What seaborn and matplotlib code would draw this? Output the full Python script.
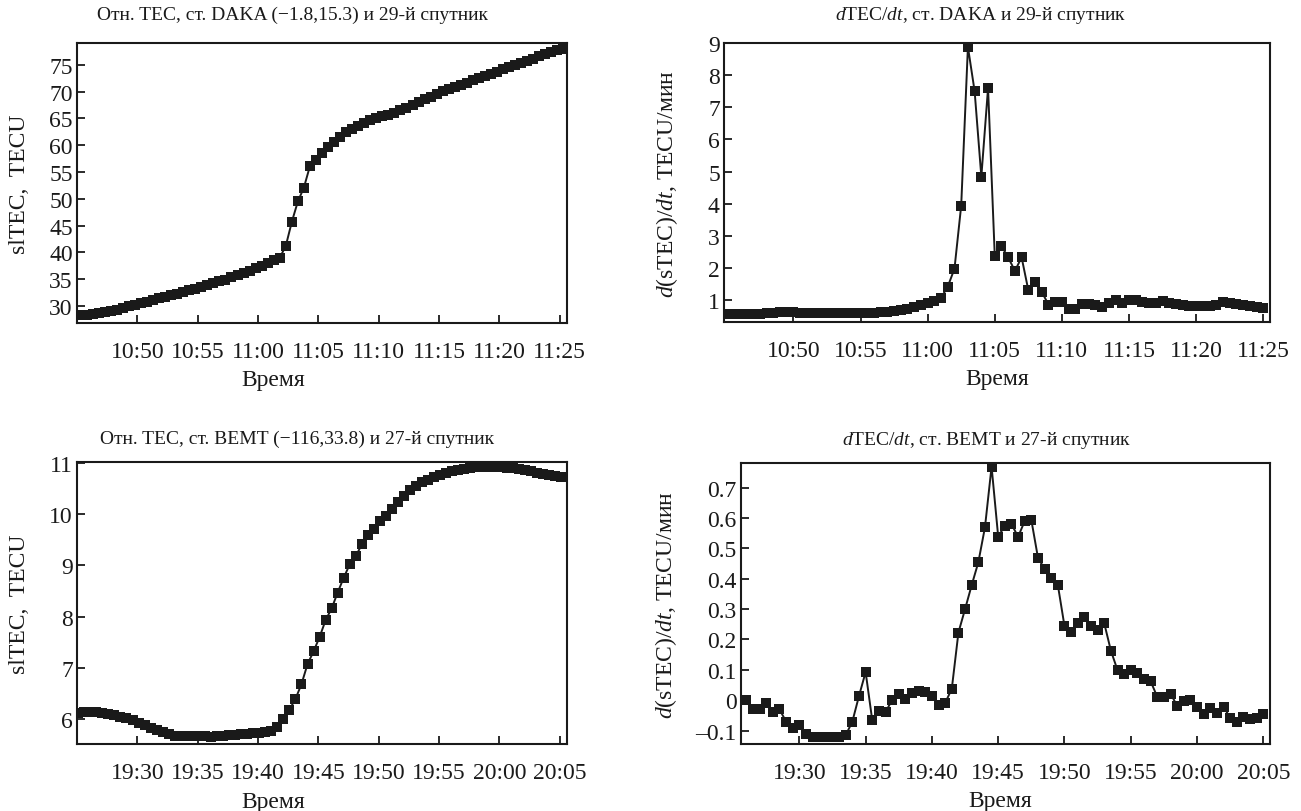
import pandas as pd
import matplotlib
matplotlib.use("Agg")
import matplotlib.pyplot as plt
import seaborn as sns

# --- данные (отсчёты каждые 30 с) ---
t_daka_tec = pd.date_range("2000-01-01 10:45:18", periods=81, freq="30s")
daka_tec = [28.3, 28.3, 28.4, 28.6, 28.8, 29.1, 29.3, 29.6, 29.9, 30.2,
            30.5, 30.8, 31.1, 31.4, 31.7, 32.0, 32.3, 32.6, 32.9, 33.2,
            33.6, 33.9, 34.2, 34.6, 34.9, 35.3, 35.7, 36.1, 36.5, 37.0,
            37.5, 38.0, 38.5, 39.0, 41.2, 45.7, 49.5, 52.1, 56.1, 57.2,
            58.6, 59.6, 60.7, 61.6, 62.4, 63.0, 63.6, 64.2, 64.7, 65.1,
            65.4, 65.7, 66.0, 66.5, 67.0, 67.5, 68.1, 68.6, 69.1, 69.6,
            70.1, 70.5, 70.9, 71.3, 71.7, 72.1, 72.5, 72.9, 73.3, 73.7,
            74.2, 74.6, 75.0, 75.4, 75.8, 76.2, 76.6, 77.0, 77.4, 77.7,
            78.0]

t_daka_dtec = pd.date_range("2000-01-01 10:45:00", periods=81, freq="30s")
daka_dtec = [0.58, 0.57, 0.56, 0.56, 0.57, 0.58, 0.60, 0.61, 0.62, 0.62,
             0.62, 0.61, 0.61, 0.61, 0.60, 0.59, 0.60, 0.60, 0.60, 0.60,
             0.60, 0.60, 0.61, 0.62, 0.64, 0.67, 0.70, 0.74, 0.78, 0.84,
             0.90, 0.96, 1.07, 1.42, 1.98, 3.94, 8.88, 7.50, 4.84, 7.60,
             2.38, 2.68, 2.33, 1.91, 2.33, 1.31, 1.55, 1.26, 0.86, 0.95,
             0.93, 0.72, 0.72, 0.87, 0.88, 0.86, 0.80, 0.92, 1.00, 0.92,
             1.00, 1.02, 0.95, 0.92, 0.92, 0.97, 0.90, 0.87, 0.85, 0.83,
             0.82, 0.82, 0.82, 0.86, 0.93, 0.90, 0.87, 0.85, 0.82, 0.78,
             0.76]

t_bemt_tec = pd.date_range("2000-01-01 19:25:06", periods=81, freq="30s")
bemt_tec = [6.12, 6.13, 6.13, 6.13, 6.12, 6.10, 6.07, 6.04, 6.01, 5.97,
            5.93, 5.88, 5.83, 5.78, 5.74, 5.70, 5.67, 5.66, 5.66, 5.67,
            5.66, 5.66, 5.65, 5.66, 5.67, 5.68, 5.69, 5.70, 5.71, 5.72,
            5.73, 5.74, 5.76, 5.85, 5.99, 6.18, 6.39, 6.68, 7.07, 7.32,
            7.60, 7.93, 8.16, 8.47, 8.76, 9.02, 9.18, 9.41, 9.60, 9.72,
            9.86, 9.97, 10.10, 10.23, 10.35, 10.47, 10.56, 10.62, 10.67, 10.72,
            10.77, 10.81, 10.84, 10.87, 10.89, 10.91, 10.92, 10.93, 10.93, 10.93,
            10.92, 10.91, 10.90, 10.88, 10.86, 10.84, 10.81, 10.78, 10.76, 10.74,
            10.73]

t_bemt_dtec = pd.date_range("2000-01-01 19:26:00", periods=79, freq="30s")
bemt_dtec = [0.00, -0.03, -0.03, -0.01, -0.04, -0.03, -0.07, -0.09, -0.08, -0.11,
             -0.12, -0.12, -0.12, -0.12, -0.12, -0.115, -0.07, 0.014, 0.093, -0.066,
             -0.035, -0.04, 0.002, 0.022, 0.005, 0.024, 0.03, 0.027, 0.013, -0.016,
             -0.009, 0.038, 0.223, 0.30, 0.379, 0.454, 0.569, 0.769, 0.538, 0.575,
             0.58, 0.538, 0.59, 0.593, 0.469, 0.432, 0.404, 0.379, 0.244, 0.225,
             0.253, 0.273, 0.244, 0.231, 0.253, 0.163, 0.099, 0.086, 0.099, 0.09,
             0.069, 0.062, 0.011, 0.011, 0.022, -0.019, -0.003, 0.0, -0.022, -0.044,
             -0.027, -0.042, -0.022, -0.058, -0.071, -0.055, -0.063, -0.058, -0.044]

xticks_daka = ["10:50", "10:55", "11:00", "11:05", "11:10", "11:15", "11:20", "11:25"]
xticks_bemt = ["19:30", "19:35", "19:40", "19:45", "19:50", "19:55", "20:00", "20:05"]
yticks_daka_tec = [30, 35, 40, 45, 50, 55, 60, 65, 70, 75]
yticks_daka_dtec = [1, 2, 3, 4, 5, 6, 7, 8, 9]
yticks_bemt_tec = [6, 7, 8, 9, 10, 11]
yticks_bemt_dtec = [-0.1, 0, 0.1, 0.2, 0.3, 0.4, 0.5, 0.6, 0.7]

titles = ["Отн. TEC, ст. DAKA (\u22121.8,15.3) и 29-й спутник",
          "$d$TEC/$dt$, ст. DAKA и 29-й спутник",
          "Отн. TEC, ст. BEMT (\u2212116,33.8) и 27-й спутник",
          "$d$TEC/$dt$, ст. BEMT и 27-й спутник"]
ylab_tec = "slTEC,  TECU"
ylab_dtec = "$d$(sTEC)/$dt$, TECU/мин"

sns.set_theme(style="ticks")
plt.rcParams["font.family"] = ["Liberation Serif", "DejaVu Serif"]
plt.rcParams["mathtext.fontset"] = "custom"
plt.rcParams["mathtext.rm"] = "Liberation Serif"
plt.rcParams["mathtext.it"] = "Liberation Serif:italic"

W, H = 1301, 812
fig = plt.figure(figsize=(W / 100, H / 100), dpi=100)
ink = "#1a1a1a"


def box(l, t, r, b):
    return [l / W, 1 - b / H, (r - l) / W, (b - t) / H]


def ts(hm):
    return pd.Timestamp("2000-01-01 " + hm)


# rect, x, y, title, ylabel, ylabel pad, xlim, ylim, xticks, yticks, title x, xlabel x, title pad
panels = [
    (box(77, 44, 567, 324), t_daka_tec, daka_tec, titles[0], ylab_tec, 14,
     ("10:45:00", "11:25:36"), (26.8, 79.1), xticks_daka, yticks_daka_tec, 0.44, 0.40, 17),
    (box(724, 44, 1270, 323), t_daka_dtec, daka_dtec, titles[1], ylab_dtec, 20,
     ("10:44:50", "11:25:30"), (0.32, 9.0), xticks_daka, yticks_daka_dtec, 0.47, 0.50, 17),
    (box(77, 463, 567, 745), t_bemt_tec, bemt_tec, titles[2], ylab_tec, 14,
     ("19:25:00", "20:05:36"), (5.51, 11.02), xticks_bemt, yticks_bemt_tec, 0.45, 0.40, 14),
    (box(741, 464, 1270, 745), t_bemt_dtec, bemt_dtec, titles[3], ylab_dtec, 12,
     ("19:25:36", "20:05:30"), (-0.144, 0.781), xticks_bemt, yticks_bemt_dtec, 0.465, 0.49, 14),
]

for rect, t, v, title, ylab, ypad, xl, yl, xt, yt, tx, xlab_pos, tpad in panels:
    ax = fig.add_axes(rect)
    df = pd.DataFrame({"t": t, "v": v})
    sns.lineplot(data=df, x="t", y="v", ax=ax, color=ink, linewidth=1.4,
                 marker="s", markersize=7.2, markeredgewidth=0, markerfacecolor=ink)
    ax.set_xlim(ts(xl[0]), ts(xl[1]))
    ax.set_ylim(*yl)
    ax.set_xticks([ts(s) for s in xt], xt)
    ax.set_yticks(yt, [("%g" % y).replace("-", "\u2013") for y in yt])
    ax.tick_params(direction="in", length=6, width=1.3, top=False, right=False,
                   labelsize=17, colors=ink, pad=3)
    ax.tick_params(axis="x", pad=13)
    for s in ax.spines.values():
        s.set_linewidth(1.5)
        s.set_color(ink)
        s.set_visible(True)
    ax.set_title(title, fontsize=14, pad=tpad, color=ink, x=tx)
    ax.set_ylabel(ylab, fontsize=17, color=ink, labelpad=ypad)
    ax.set_xlabel("Время", fontsize=17, color=ink)
    ax.xaxis.set_label_coords(xlab_pos, -0.165)

fig.savefig("out.png", dpi=100, facecolor="white")
